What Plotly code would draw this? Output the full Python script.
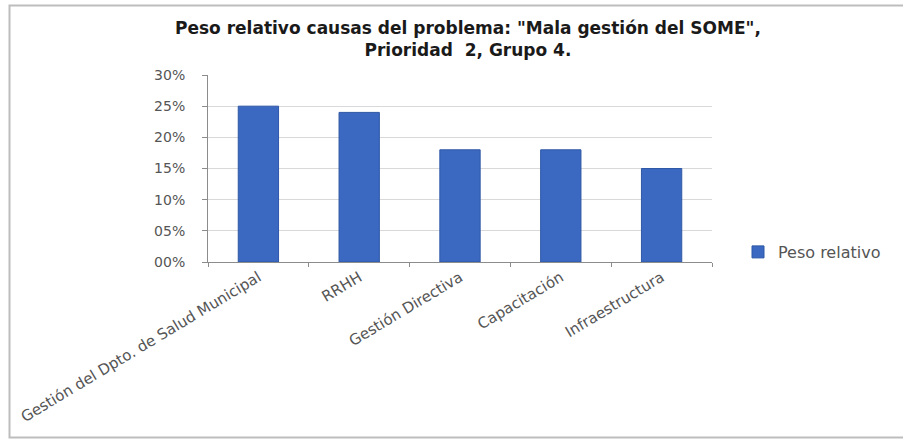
import plotly.graph_objects as go

# Causas y su peso relativo
causas = [
    "Gestión del Dpto. de Salud Municipal",
    "RRHH",
    "Gestión Directiva",
    "Capacitación",
    "Infraestructura",
]
peso_relativo = [0.25, 0.24, 0.18, 0.18, 0.15]

y_tickvals = [0, 0.05, 0.10, 0.15, 0.20, 0.25, 0.30]
y_ticktext = ["00%", "05%", "10%", "15%", "20%", "25%", "30%"]

titulo = [
    "Peso relativo causas del problema: \"Mala gestión del SOME\",",
    "Prioridad  2, Grupo 4.",
]

W, H = 903, 440
L, R, T, B = 208, 191, 75, 178
pw, ph = W - L - R, H - T - B


def px_to_paper_x(px):
    return (px - L) / pw


def px_to_paper_y(py):
    return (H - B - py) / ph


fig = go.Figure()
fig.add_trace(go.Bar(
    x=causas,
    y=peso_relativo,
    name="Peso relativo",
    marker=dict(color="#3b68c0", line=dict(color="#2f58a6", width=1)),
    showlegend=True,
))

fig.update_layout(
    width=W,
    height=H,
    margin=dict(l=L, r=R, t=T, b=B),
    paper_bgcolor="white",
    plot_bgcolor="white",
    bargap=0.6,
    font=dict(family="DejaVu Sans", color="#595959"),
    xaxis=dict(
        showline=True,
        linecolor="#8c8c8c",
        linewidth=1,
        ticks="outside",
        tickson="boundaries",
        ticklen=4,
        tickcolor="#8c8c8c",
        tickangle=-31,
        tickfont=dict(size=15, color="#555555"),
        showgrid=False,
    ),
    yaxis=dict(
        range=[0, 0.30],
        tickvals=y_tickvals,
        ticktext=y_ticktext,
        showline=True,
        linecolor="#8c8c8c",
        linewidth=1,
        ticks="outside",
        ticklen=5,
        tickcolor="#8c8c8c",
        ticklabelstandoff=14,
        tickfont=dict(size=14, color="#555555"),
        showgrid=True,
        gridcolor="#d9d9d9",
        gridwidth=1,
        zeroline=False,
    ),
    legend=dict(
        x=px_to_paper_x(738),
        y=px_to_paper_y(252),
        xanchor="left",
        yanchor="middle",
        font=dict(size=16, color="#555555"),
        bgcolor="rgba(0,0,0,0)",
    ),
)

# Título en dos líneas
fig.add_annotation(
    text="<br>".join(titulo),
    xref="paper", yref="paper",
    x=px_to_paper_x(468), y=px_to_paper_y(39),
    xanchor="center", yanchor="middle",
    align="center",
    showarrow=False,
    font=dict(family="DejaVu Sans", size=17, color="#1a1a1a", weight="bold"),
)

# Marco exterior del gráfico
fig.add_shape(
    type="rect",
    xref="paper", yref="paper",
    x0=px_to_paper_x(9.5), x1=px_to_paper_x(960),
    y0=px_to_paper_y(437.5), y1=px_to_paper_y(5.5),
    line=dict(color="#bdbdbd", width=2),
    fillcolor="rgba(0,0,0,0)",
    layer="below",
)

fig.write_html("out.html")
